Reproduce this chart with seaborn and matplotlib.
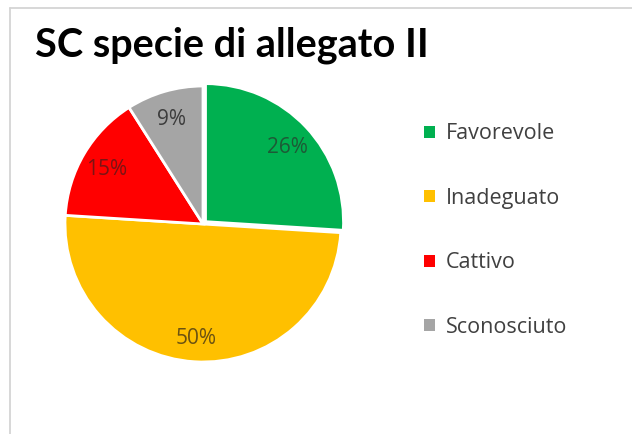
import matplotlib
matplotlib.use("Agg")
import matplotlib.pyplot as plt
import seaborn as sns
from matplotlib.patches import Patch
from matplotlib.lines import Line2D

# Conservation status of Annex II species
categories = ["Favorevole", "Inadeguato", "Cattivo", "Sconosciuto"]
shares = [26, 50, 15, 9]
slice_colors = ["#00B050", "#FFC000", "#FF0000", "#A5A5A5"]
label_colors = ["#1d5a36", "#6a5212", "#7a1414", "#3c3c3c"]
title = "SC specie di allegato II"

sns.set_theme(style="white")
plt.rcParams["font.family"] = ["Open Sans", "DejaVu Sans"]

W, H = 632, 434
fig = plt.figure(figsize=(W / 100, H / 100), dpi=100)
fig.patch.set_facecolor("white")

# thin frame along the top and left edges
fig.add_artist(Line2D([10 / W, 1], [1 - 8 / H, 1 - 8 / H], color="#d4d4d4", lw=1.3))
fig.add_artist(Line2D([10 / W, 10 / W], [0, 1 - 8 / H], color="#d4d4d4", lw=1.3))

# pie axes: centre (203, 224) px from top-left, radius 138 px
cx, cy, r = 203, 224, 138
pad = 1.1
side = 2 * r * pad
ax = fig.add_axes([(cx - side / 2) / W, (H - cy - side / 2) / H, side / W, side / H])

palette = sns.color_palette(slice_colors)
wedges, texts, autotexts = ax.pie(
    shares,
    colors=palette,
    startangle=90,
    counterclock=False,
    explode=[0.025, 0, 0, 0],
    autopct="%d%%",
    pctdistance=0.81,
    wedgeprops=dict(edgecolor="white", linewidth=2),
    textprops=dict(fontsize=15),
)
for t, c in zip(autotexts, label_colors):
    t.set_color(c)
    t.set_va("center_baseline")
ax.set_xlim(-pad, pad)
ax.set_ylim(-pad, pad)
ax.set_aspect("equal")
ax.axis("off")

fig.text(35 / W, 1 - 56 / H, title, fontsize=28.5, fontweight="bold",
         color="black", va="baseline", ha="left",
         family=["Lato", "DejaVu Sans"])

handles = [Patch(facecolor=c, edgecolor="none") for c in slice_colors]
fig.legend(handles, categories, loc="upper left",
           bbox_to_anchor=(405 / W, 1 - 104 / H), frameon=False,
           fontsize=15.5, labelcolor="#404040", labelspacing=2.02,
           handlelength=0.5, handleheight=0.5, handletextpad=0.5)

fig.savefig("out.png", dpi=100, facecolor="white")
